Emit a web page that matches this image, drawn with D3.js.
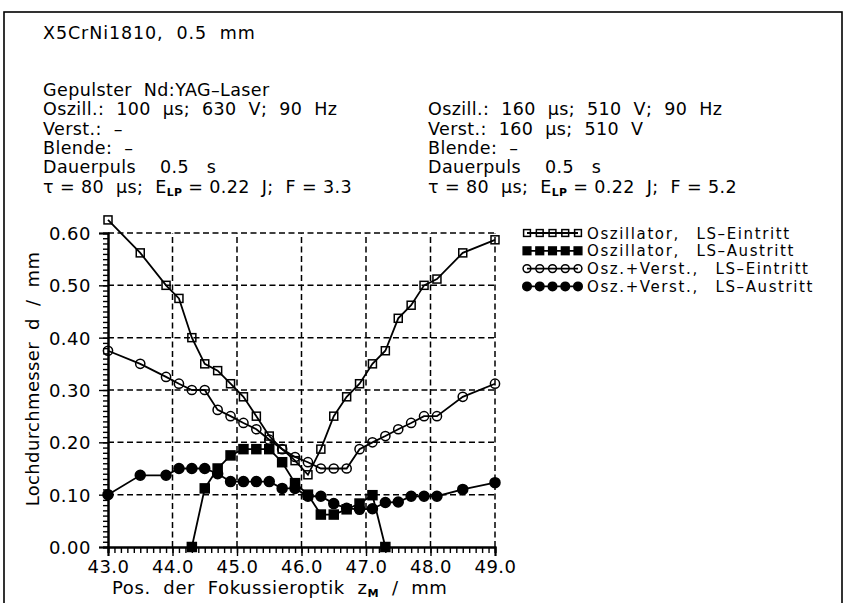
<!DOCTYPE html>
<html><head><meta charset="utf-8">
<script src="https://cdn.jsdelivr.net/npm/d3@7"></script>
<style>
body{margin:0;background:#fff}
svg{display:block}
text{font-family:"DejaVu Sans",sans-serif;fill:#000}
</style>
</head><body>
<svg id="c" width="846" height="603"></svg>
<script>
// ---- data ----
const xTickValues = [43, 44, 45, 46, 47, 48, 49];
const yTickValues = [0, 0.1, 0.2, 0.3, 0.4, 0.5, 0.6];

const oszEinX = [43.0,43.5,43.9,44.1,44.3,44.5,44.7,44.9,45.1,45.3,45.5,45.7,45.9,46.1,46.3,46.5,46.7,46.9,47.1,47.3,47.5,47.7,47.9,48.1,48.5,49.0];
const oszEinY = [0.625,0.562,0.500,0.475,0.400,0.350,0.337,0.312,0.287,0.250,0.212,0.187,0.165,0.138,0.187,0.250,0.287,0.312,0.350,0.375,0.437,0.462,0.500,0.512,0.562,0.587];

const oszAusX = [44.3,44.5,44.7,44.9,45.1,45.3,45.5,45.7,45.9,46.1,46.3,46.5,46.7,46.9,47.1,47.3];
const oszAusY = [0.000,0.112,0.150,0.175,0.187,0.187,0.187,0.162,0.122,0.100,0.062,0.062,0.072,0.083,0.099,0.000];

const verEinX = [43.0,43.5,43.9,44.1,44.3,44.5,44.7,44.9,45.1,45.3,45.5,45.7,45.9,46.1,46.3,46.5,46.7,46.9,47.1,47.3,47.5,47.7,47.9,48.1,48.5,49.0];
const verEinY = [0.375,0.350,0.325,0.312,0.300,0.300,0.262,0.250,0.237,0.225,0.205,0.187,0.172,0.162,0.150,0.150,0.150,0.187,0.200,0.212,0.225,0.237,0.250,0.250,0.287,0.312];

const verAusX = [43.0,43.5,43.9,44.1,44.3,44.5,44.7,44.9,45.1,45.3,45.5,45.7,45.9,46.1,46.3,46.5,46.7,46.9,47.1,47.3,47.5,47.7,47.9,48.1,48.5,49.0];
const verAusY = [0.100,0.137,0.137,0.150,0.150,0.150,0.140,0.125,0.125,0.125,0.125,0.112,0.112,0.097,0.097,0.083,0.074,0.072,0.073,0.085,0.086,0.097,0.097,0.097,0.110,0.123];

const seriesNames = ["Oszillator,  LS\u2013Eintritt","Oszillator,  LS\u2013Austritt","Osz.+Verst.,  LS\u2013Eintritt","Osz.+Verst.,  LS\u2013Austritt"];
const seriesMarkers = ["squareOpen","squareFilled","circleOpen","circleFilled"];

const titleLine = "X5CrNi1810,  0.5  mm";
const headerLeft = [
  [["Gepulster  Nd:YAG\u2013Laser"]],
  [["Oszill.:  100  \u03bcs;  630  V;  90  Hz"]],
  [["Verst.:  \u2013"]],
  [["Blende:  \u2013"]],
  [["Dauerpuls    0.5   s"]],
  [["\u03c4 = 80  \u03bcs;  E"],["LP","sub"],[" = 0.22  J;  F = 3.3"]]
];
const headerRight = [
  null,
  [["Oszill.:  160  \u03bcs;  510  V;  90  Hz"]],
  [["Verst.:  160  \u03bcs;  510  V"]],
  [["Blende:  \u2013"]],
  [["Dauerpuls    0.5   s"]],
  [["\u03c4 = 80  \u03bcs;  E"],["LP","sub"],[" = 0.22  J;  F = 5.2"]]
];
const yTitle = "Lochdurchmesser  d  /  mm";
const xTitleParts = [["Pos.  der  Fokussieroptik  z"],["M","sub"],["  /  mm"]];

// ---- drawing ----
const svg = d3.select("#c");
svg.append("rect").attr("x",4).attr("y",12).attr("width",838).attr("height",620)
  .attr("fill","none").attr("stroke","#000").attr("stroke-width",1.6);

function richText(g, parts, x, y, size, ls){
  const t = g.append("text").attr("x",x).attr("y",y)
    .style("font-size",size+"px").style("white-space","pre")
    .style("letter-spacing",(ls==null?0.4:ls)+"px");
  parts.forEach(p=>{
    if(p[1]==="sub"){
      t.append("tspan").attr("dy",3).style("font-size",(size*0.62)+"px").style("font-weight","bold").text(p[0]);
    } else {
      const s = t.append("tspan").text(p[0]);
      if(t.selectAll("tspan").size()>1) s.attr("dy",-3);
    }
  });
  return t;
}

const hdr = svg.append("g");
richText(hdr, [[titleLine]], 43, 39, 17.5, 0.9);
headerLeft.forEach((l,i)=>{ if(l) richText(hdr, l, 43, 96+i*19.3, 17.5); });
headerRight.forEach((l,i)=>{ if(l) richText(hdr, l, 428, 96+i*19.3, 17.5); });

const x = d3.scaleLinear().domain([43,49]).range([108,495]);
const y = d3.scaleLinear().domain([0,0.6]).range([547,233]);

// grid
const grid = svg.append("g").attr("stroke","#000").attr("stroke-width",1.5).attr("stroke-dasharray","6,3.5");
grid.selectAll("line.v").data(xTickValues.slice(1)).join("line")
  .attr("x1",d=>x(d)).attr("x2",d=>x(d)).attr("y1",y(0)).attr("y2",y(0.6));
grid.selectAll("line.h").data(yTickValues.slice(1)).join("line")
  .attr("x1",x(43)).attr("x2",x(49)).attr("y1",d=>y(d)).attr("y2",d=>y(d));

// axes
const minorX = d3.range(430,491).map(d=>d/10);
const minorY = d3.range(0,61).map(d=>d/100);
const xAxisMinor = d3.axisBottom(x).tickValues(minorX).tickSize(6).tickFormat("");
const xAxisMajor = d3.axisBottom(x).tickValues(xTickValues).tickSize(9).tickFormat(d3.format(".1f"));
const yAxisMinor = d3.axisLeft(y).tickValues(minorY).tickSize(5).tickFormat("");
const yAxisMajor = d3.axisLeft(y).tickValues(yTickValues).tickSize(9).tickFormat(d3.format(".2f"));

function styleAxis(g){
  g.select(".domain").attr("stroke","#000").attr("stroke-width",2);
  g.selectAll(".tick line").attr("stroke","#000").attr("stroke-width",1.4);
  g.selectAll(".tick text").style("font-family",'"DejaVu Sans",sans-serif').style("font-size","18px").style("letter-spacing","0.5px").attr("fill","#000");
}
svg.append("g").attr("transform",`translate(0,${y(0)})`).call(xAxisMinor).call(styleAxis);
svg.append("g").attr("transform",`translate(0,${y(0)})`).call(xAxisMajor).call(styleAxis)
  .call(g=>g.selectAll(".tick text").attr("y",13).attr("dy","0.71em"));
svg.append("g").attr("transform",`translate(${x(43)},0)`).call(yAxisMinor).call(styleAxis);
svg.append("g").attr("transform",`translate(${x(43)},0)`).call(yAxisMajor).call(styleAxis)
  .call(g=>g.selectAll(".tick text").attr("x",-17).attr("dy","0.36em"));

// titles
svg.append("text").attr("transform","translate(39,379) rotate(-90)").attr("text-anchor","middle")
  .style("font-size","18px").style("white-space","pre").style("letter-spacing","0.35px").text(yTitle);
richText(svg, xTitleParts, 112, 594, 18, 0.6);

// series
const series = [
  {xs:oszEinX, ys:oszEinY, m:seriesMarkers[0]},
  {xs:oszAusX, ys:oszAusY, m:seriesMarkers[1]},
  {xs:verEinX, ys:verEinY, m:seriesMarkers[2]},
  {xs:verAusX, ys:verAusY, m:seriesMarkers[3]}
];
const line = d3.line().x(d=>x(d[0])).y(d=>y(d[1]));

function drawMarker(g, type, cx, cy, s){
  if(type.startsWith("square")){
    const w = type==="squareFilled" ? 9*s : 8*s;
    g.append("rect").attr("x",cx-w/2).attr("y",cy-w/2).attr("width",w).attr("height",w)
      .attr("fill",type==="squareFilled"?"#000":"none").attr("stroke","#000").attr("stroke-width",1.5);
  } else {
    const r = type==="circleFilled" ? 5*s : 4.6*s;
    g.append("circle").attr("cx",cx).attr("cy",cy).attr("r",r)
      .attr("fill",type==="circleFilled"?"#000":"none").attr("stroke","#000").attr("stroke-width",1.5);
  }
}

const plot = svg.append("g");
series.forEach(s=>{
  const pts = s.xs.map((v,i)=>[v,s.ys[i]]);
  plot.append("path").datum(pts).attr("d",line).attr("fill","none").attr("stroke","#000").attr("stroke-width",1.8);
  const mg = plot.append("g");
  pts.forEach(p=>drawMarker(mg, s.m, x(p[0]), y(p[1]), 1));
});

// legend
const leg = svg.append("g");
seriesNames.forEach((name,i)=>{
  const ly = 233 + i*17.8;
  leg.append("line").attr("x1",527).attr("x2",578).attr("y1",ly).attr("y2",ly).attr("stroke","#000").attr("stroke-width",1.8);
  d3.range(5).forEach(k=>drawMarker(leg, seriesMarkers[i], 527 + k*12.75, ly, 0.85));
  leg.append("text").attr("x",587).attr("y",ly+5.5).style("font-size","15px").style("white-space","pre")
    .style("letter-spacing","1.6px").style("word-spacing","2px").text(name);
});
</script>
</body></html>
